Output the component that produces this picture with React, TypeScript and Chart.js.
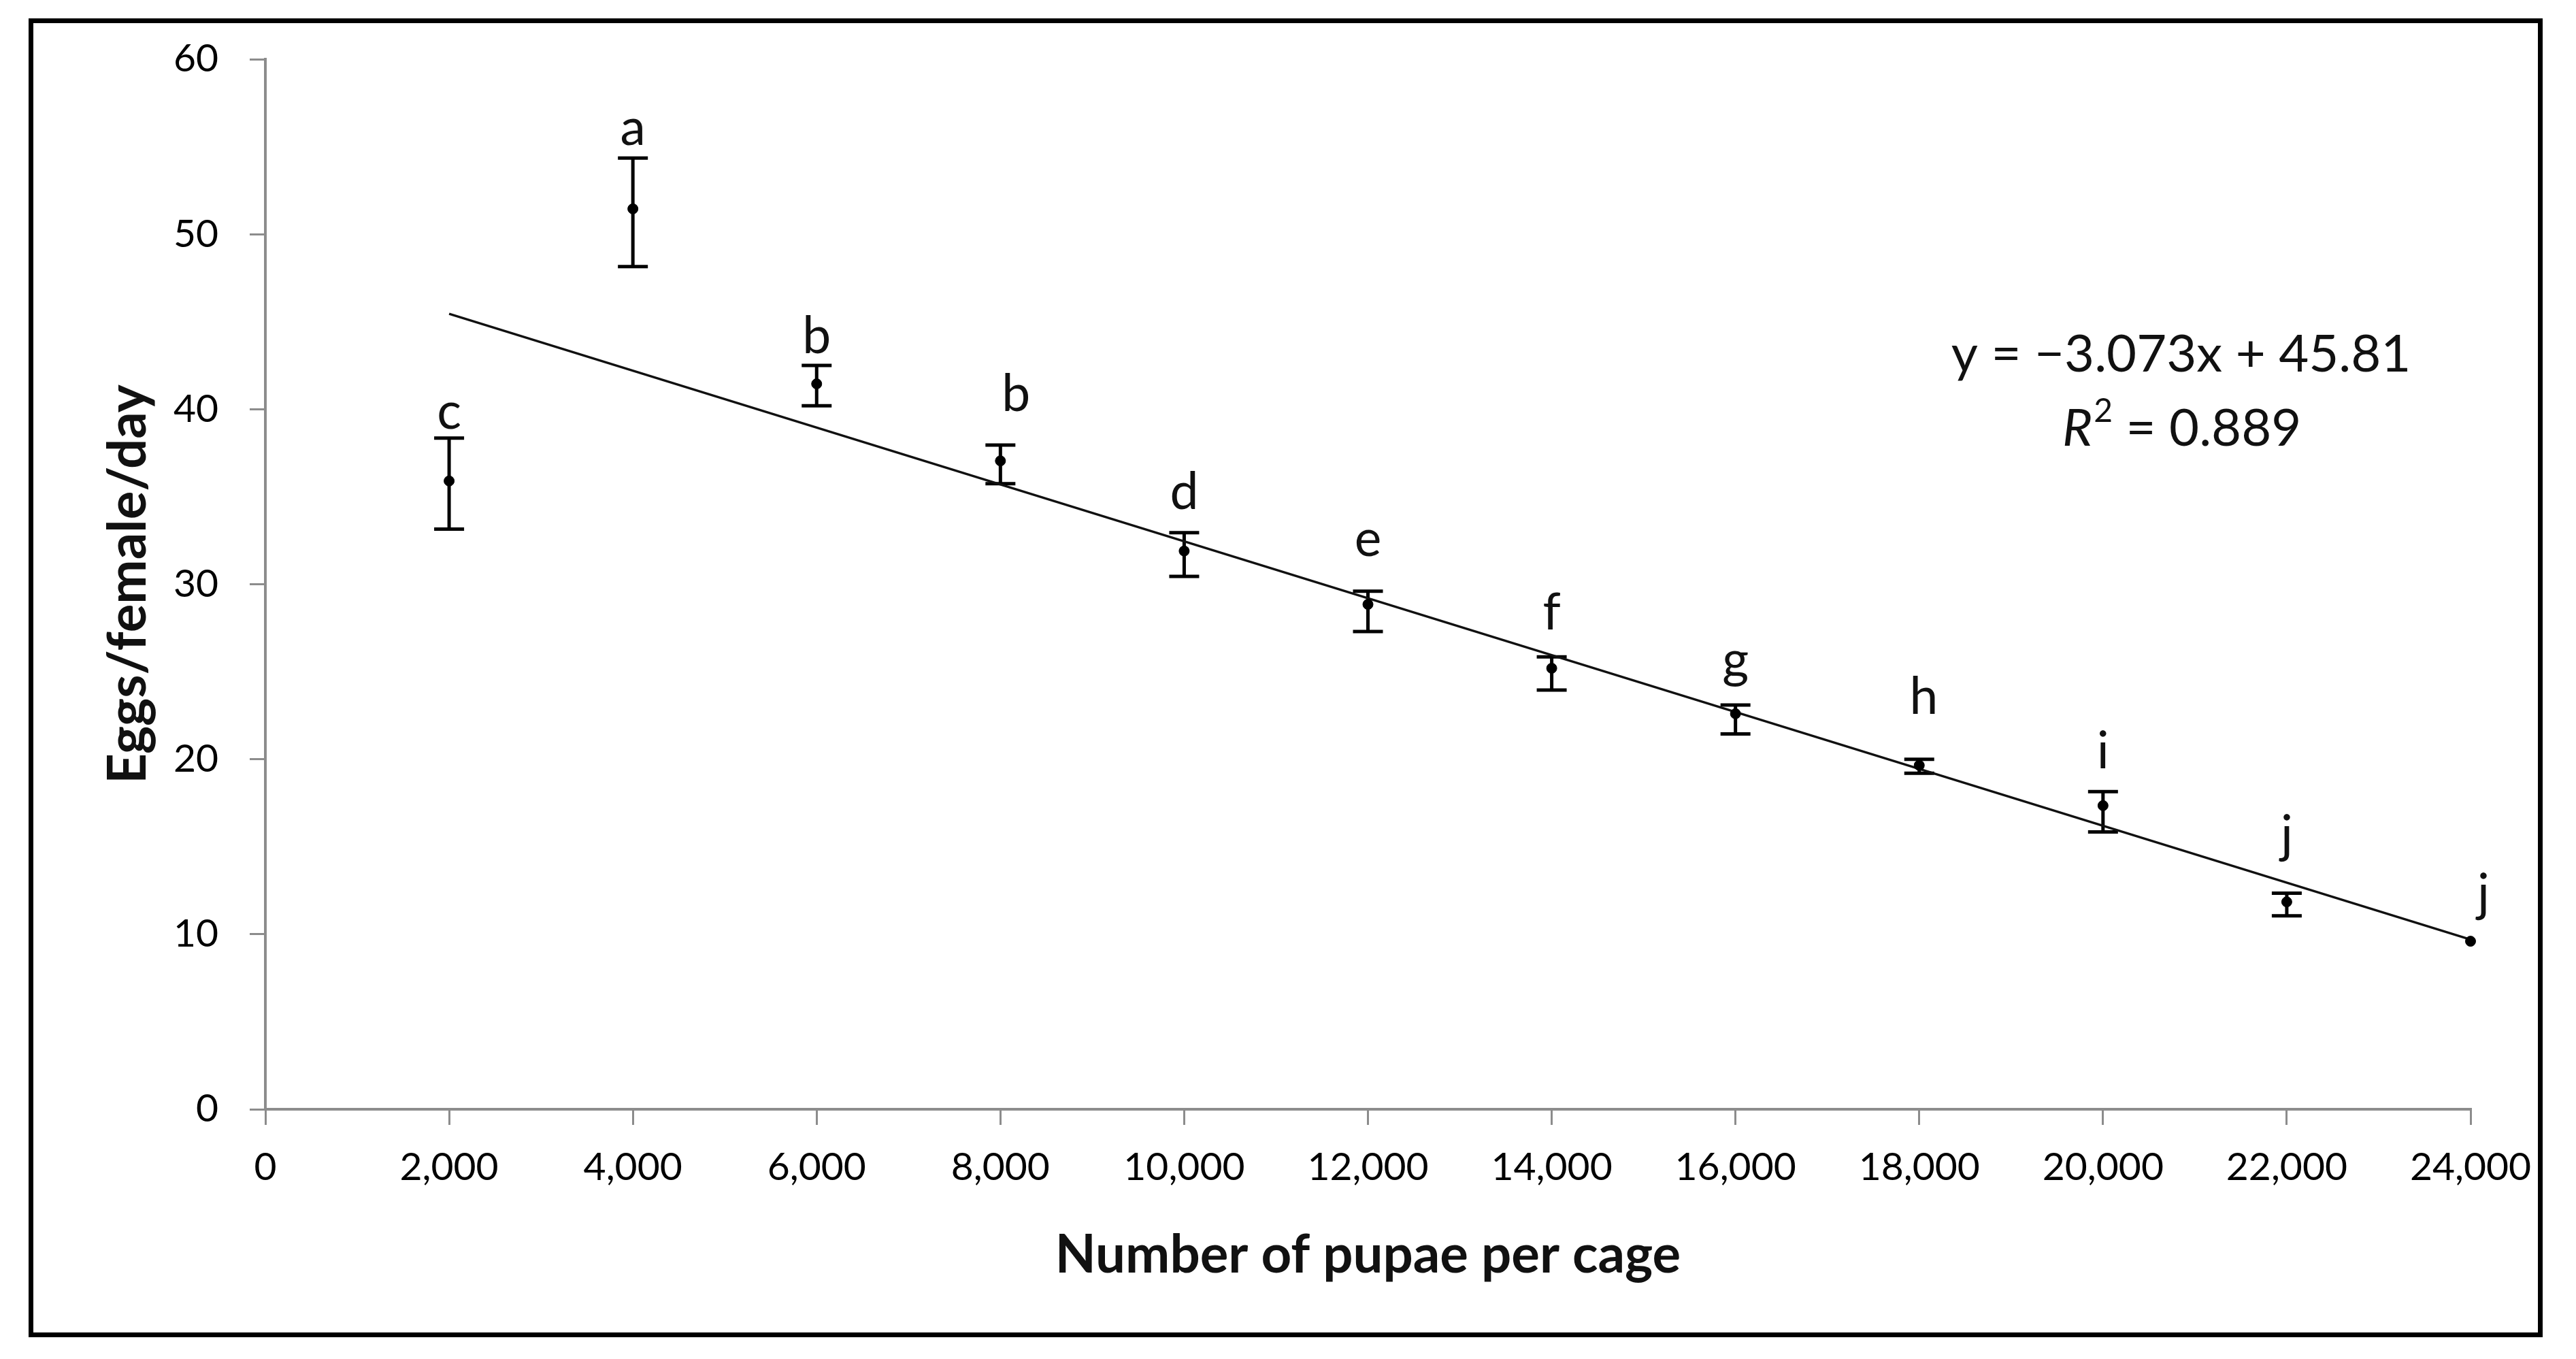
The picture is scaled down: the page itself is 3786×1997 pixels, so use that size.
import React, { useEffect, useRef } from "react";
import { Chart, registerables } from "chart.js";

Chart.register(...registerables);

// ---- data ----
const pupae = [2000, 4000, 6000, 8000, 10000, 12000, 14000, 16000, 18000, 20000, 22000, 24000];
const eggsMean = [35.9, 51.45, 41.45, 37.05, 31.9, 28.85, 25.2, 22.6, 19.65, 17.35, 11.85, 9.6];
const errHigh = [38.35, 54.35, 42.5, 37.95, 32.95, 29.6, 25.85, 23.1, 20.0, 18.15, 12.35, 9.6];
const errLow = [33.15, 48.15, 40.2, 35.75, 30.45, 27.3, 23.95, 21.45, 19.2, 15.85, 11.05, 9.6];

const letters = ["c", "a", "b", "b", "d", "e", "f", "g", "h", "i", "j", "j"];
const letterX = [2000, 4000, 6000, 8170, 10000, 12000, 14000, 16000, 18050, 20000, 22000, 24140];
const letterY = [38.9, 55.1, 43.2, 39.9, 34.3, 31.6, 27.4, 24.7, 22.6, 19.5, 14.7, 11.35];

const trendX = [2000, 24000];
const trendY = [45.45, 9.7];

const eqLine1 = "y = \u22123.073x + 45.81";
const eqR2Value = " = 0.889";
const eqPosX = 20850;
const eqPosY = [43.1, 38.85];

const yTicks = [0, 10, 20, 30, 40, 50, 60];
const xTitle = "Number of pupae per cage";
const yTitle = "Eggs/female/day";

const FONT = "Lato, 'Open Sans', sans-serif";

const overlayPlugin = {
  id: "overlay",
  beforeDatasetsDraw(chart: any) {
    const { ctx, scales } = chart;
    const x = scales.x;
    const y = scales.y;
    ctx.save();
    ctx.strokeStyle = "#000";
    ctx.lineWidth = 5;
    ctx.lineCap = "butt";
    const cap = 22;
    for (let i = 0; i < pupae.length; i++) {
      if (errHigh[i] <= errLow[i]) continue;
      const px = x.getPixelForValue(pupae[i]);
      const top = y.getPixelForValue(errHigh[i]);
      const bot = y.getPixelForValue(errLow[i]);
      ctx.beginPath();
      ctx.moveTo(px, top);
      ctx.lineTo(px, bot);
      ctx.moveTo(px - cap, top);
      ctx.lineTo(px + cap, top);
      ctx.moveTo(px - cap, bot);
      ctx.lineTo(px + cap, bot);
      ctx.stroke();
    }
    ctx.restore();
  },
  afterDatasetsDraw(chart: any) {
    const { ctx, scales } = chart;
    const x = scales.x;
    const y = scales.y;
    ctx.save();
    ctx.fillStyle = "#111";
    ctx.font = `75px ${FONT}`;
    ctx.textAlign = "center";
    ctx.textBaseline = "alphabetic";
    for (let i = 0; i < letters.length; i++) {
      ctx.fillText(letters[i], x.getPixelForValue(letterX[i]), y.getPixelForValue(letterY[i]));
    }
    // equation
    const cx = x.getPixelForValue(eqPosX);
    ctx.font = `76px ${FONT}`;
    ctx.textBaseline = "middle";
    ctx.fillText(eqLine1, cx, y.getPixelForValue(eqPosY[0]));
    // R^2 line
    const y2 = y.getPixelForValue(eqPosY[1]);
    ctx.font = `italic 76px ${FONT}`;
    const wR = ctx.measureText("R").width;
    ctx.font = `48px ${FONT}`;
    const w2 = ctx.measureText("2").width;
    ctx.font = `76px ${FONT}`;
    const wV = ctx.measureText(eqR2Value).width;
    let sx = cx - (wR + w2 + wV) / 2;
    ctx.textAlign = "left";
    ctx.font = `italic 76px ${FONT}`;
    ctx.fillText("R", sx, y2);
    sx += wR + 2;
    ctx.font = `48px ${FONT}`;
    ctx.fillText("2", sx, y2 - 26);
    sx += w2;
    ctx.font = `76px ${FONT}`;
    ctx.fillText(eqR2Value, sx, y2);
    ctx.restore();
  },
};

export default function App() {
  const ref = useRef<HTMLCanvasElement | null>(null);
  useEffect(() => {
    if (!ref.current) return;
    const axisGray = "#8c8c8c";
    const chart = new Chart(ref.current, {
      type: "scatter",
      data: {
        datasets: [
          {
            type: "scatter",
            label: "Eggs",
            data: pupae.map((p, i) => ({ x: p, y: eggsMean[i] })),
            backgroundColor: "#000",
            borderColor: "#000",
            pointRadius: 7.5,
            pointStyle: "circle",
            clip: false,
            order: 1,
          } as any,
          {
            type: "line",
            label: "Trend",
            data: trendX.map((v, i) => ({ x: v, y: trendY[i] })),
            borderColor: "#111",
            borderWidth: 3.5,
            pointRadius: 0,
            tension: 0,
            fill: false,
            clip: false,
            order: 2,
          } as any,
        ],
      },
      options: {
        responsive: false,
        animation: false,
        devicePixelRatio: 1,
        layout: { padding: { left: 138, top: 87, right: 155, bottom: 101 } },
        plugins: { legend: { display: false }, tooltip: { enabled: false } },
        scales: {
          x: {
            type: "linear",
            min: 0,
            max: 24000,
            afterFit: (s: any) => {
              s.height = 266;
            },
            ticks: {
              stepSize: 2000,
              padding: 28,
              color: "#000",
              font: { family: FONT, size: 57 },
              maxRotation: 0,
              autoSkip: false,
              callback: (v: any) => Number(v).toLocaleString("en-US"),
            },
            grid: { drawOnChartArea: false, drawTicks: true, tickLength: 23, color: axisGray, lineWidth: 3 },
            border: { display: true, color: axisGray, width: 4 },
            title: {
              display: true,
              text: xTitle,
              color: "#111",
              font: { family: FONT, size: 78, weight: "bold" },
              padding: { top: 4, bottom: 4 },
            },
          },
          y: {
            type: "linear",
            min: yTicks[0],
            max: yTicks[yTicks.length - 1],
            afterFit: (s: any) => {
              s.width = 390 - 138;
            },
            ticks: {
              stepSize: 10,
              padding: 46,
              color: "#000",
              font: { family: FONT, size: 57 },
            },
            grid: { drawOnChartArea: false, drawTicks: true, tickLength: 23, color: axisGray, lineWidth: 3 },
            border: { display: true, color: axisGray, width: 4 },
            title: {
              display: true,
              text: yTitle,
              color: "#111",
              font: { family: FONT, size: 78, weight: "bold" },
              padding: { top: 4, bottom: 4 },
            },
          },
        },
      } as any,
      plugins: [overlayPlugin],
    });
    return () => chart.destroy();
  }, []);

  return (
    <>
      <canvas
        ref={ref}
        width={3786}
        height={1997}
        style={{ position: "absolute", left: 0, top: 0, width: 3786, height: 1997 }}
      />
      <div
        style={{
          position: "absolute",
          left: 42,
          top: 27,
          width: 3695,
          height: 1938,
          border: "7px solid #000",
          boxSizing: "border-box",
          pointerEvents: "none",
        }}
      />
    </>
  );
}
